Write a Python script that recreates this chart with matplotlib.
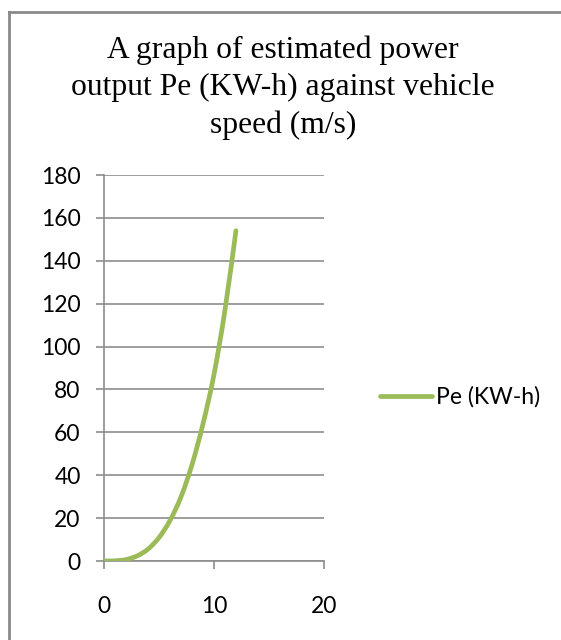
import matplotlib
matplotlib.use("Agg")
import matplotlib.pyplot as plt
from matplotlib.lines import Line2D
from matplotlib.path import Path
from matplotlib.patches import PathPatch

# speed (m/s) vs estimated power output
speed = [0, 1, 2, 3, 4, 5, 6, 7, 8, 9, 10, 11, 12]
power = [0, 0.1, 0.7, 2.4, 5.6, 11, 19, 30, 45, 64, 87, 117, 154]
series_name = "Pe (KW-h)"
title = "A graph of estimated power\noutput Pe (KW-h) against vehicle\nspeed (m/s)"
y_ticks = [0, 20, 40, 60, 80, 100, 120, 140, 160, 180]
x_ticks = [0, 10, 20]

grid_col = "#8c8c8c"
line_col = "#9bbb59"


def smooth_path(xs, ys):
    # Excel-style smoothed line: catmull-rom segments as cubic beziers
    verts = [(xs[0], ys[0])]
    codes = [Path.MOVETO]
    n = len(xs)
    for i in range(n - 1):
        x0, y0 = (xs[i - 1], ys[i - 1]) if i > 0 else (xs[i], ys[i])
        x1, y1 = xs[i], ys[i]
        x2, y2 = xs[i + 1], ys[i + 1]
        x3, y3 = (xs[i + 2], ys[i + 2]) if i + 2 < n else (x2, y2)
        c1 = (x1 + (x2 - x0) / 6, y1 + (y2 - y0) / 6)
        c2 = (x2 - (x3 - x1) / 6, y2 - (y3 - y1) / 6)
        verts += [c1, c2, (x2, y2)]
        codes += [Path.CURVE4] * 3
    return Path(verts, codes)


fig = plt.figure(figsize=(5.61, 6.40), dpi=100)
ax = fig.add_axes([104.3 / 561, 1 - 561 / 640, (323.7 - 104.3) / 561, (561 - 175) / 640])

ax.add_patch(PathPatch(smooth_path(speed, power), facecolor="none",
                       edgecolor=line_col, lw=3.4, capstyle="round",
                       joinstyle="round", zorder=3))

ax.set_xlim(0, 20)
ax.set_ylim(0, 180)
ax.set_xticks(x_ticks)
ax.set_yticks(y_ticks)
ax.yaxis.grid(True, color=grid_col, lw=1.2)
ax.set_axisbelow(True)

for side in ["top", "right"]:
    ax.spines[side].set_visible(False)
for side in ["left", "bottom"]:
    ax.spines[side].set_color(grid_col)
    ax.spines[side].set_linewidth(1.2)

ax.tick_params(axis="both", colors=grid_col, labelcolor="black", width=1.2,
               length=6, labelsize=16.5)
ax.tick_params(axis="y", pad=11)
ax.tick_params(axis="x", pad=19)
for lab in ax.get_xticklabels() + ax.get_yticklabels():
    lab.set_fontfamily("Lato")

fig.text(0.505, 1 - 88 / 640, title, ha="center", va="center",
         fontfamily="Liberation Serif", fontsize=22.8, linespacing=1.36)

# legend
handle = Line2D([], [], color=line_col, lw=3.4, solid_capstyle="round")
fig.legend([handle], [series_name], loc="center left",
           bbox_to_anchor=(371 / 561, 1 - 397 / 640), frameon=False,
           prop={"family": "Lato", "size": 16.5}, handlelength=2.25,
           handletextpad=0.2, borderaxespad=0)

# chart border (top and left only visible in the crop)
fig.add_artist(Line2D([9 / 561, 1], [1 - 12 / 640, 1 - 12 / 640],
                      transform=fig.transFigure, color="#8a8a8a", lw=2))
fig.add_artist(Line2D([9 / 561, 9 / 561], [0, 1 - 12 / 640],
                      transform=fig.transFigure, color="#8a8a8a", lw=2))

fig.savefig("out.png", dpi=100)
